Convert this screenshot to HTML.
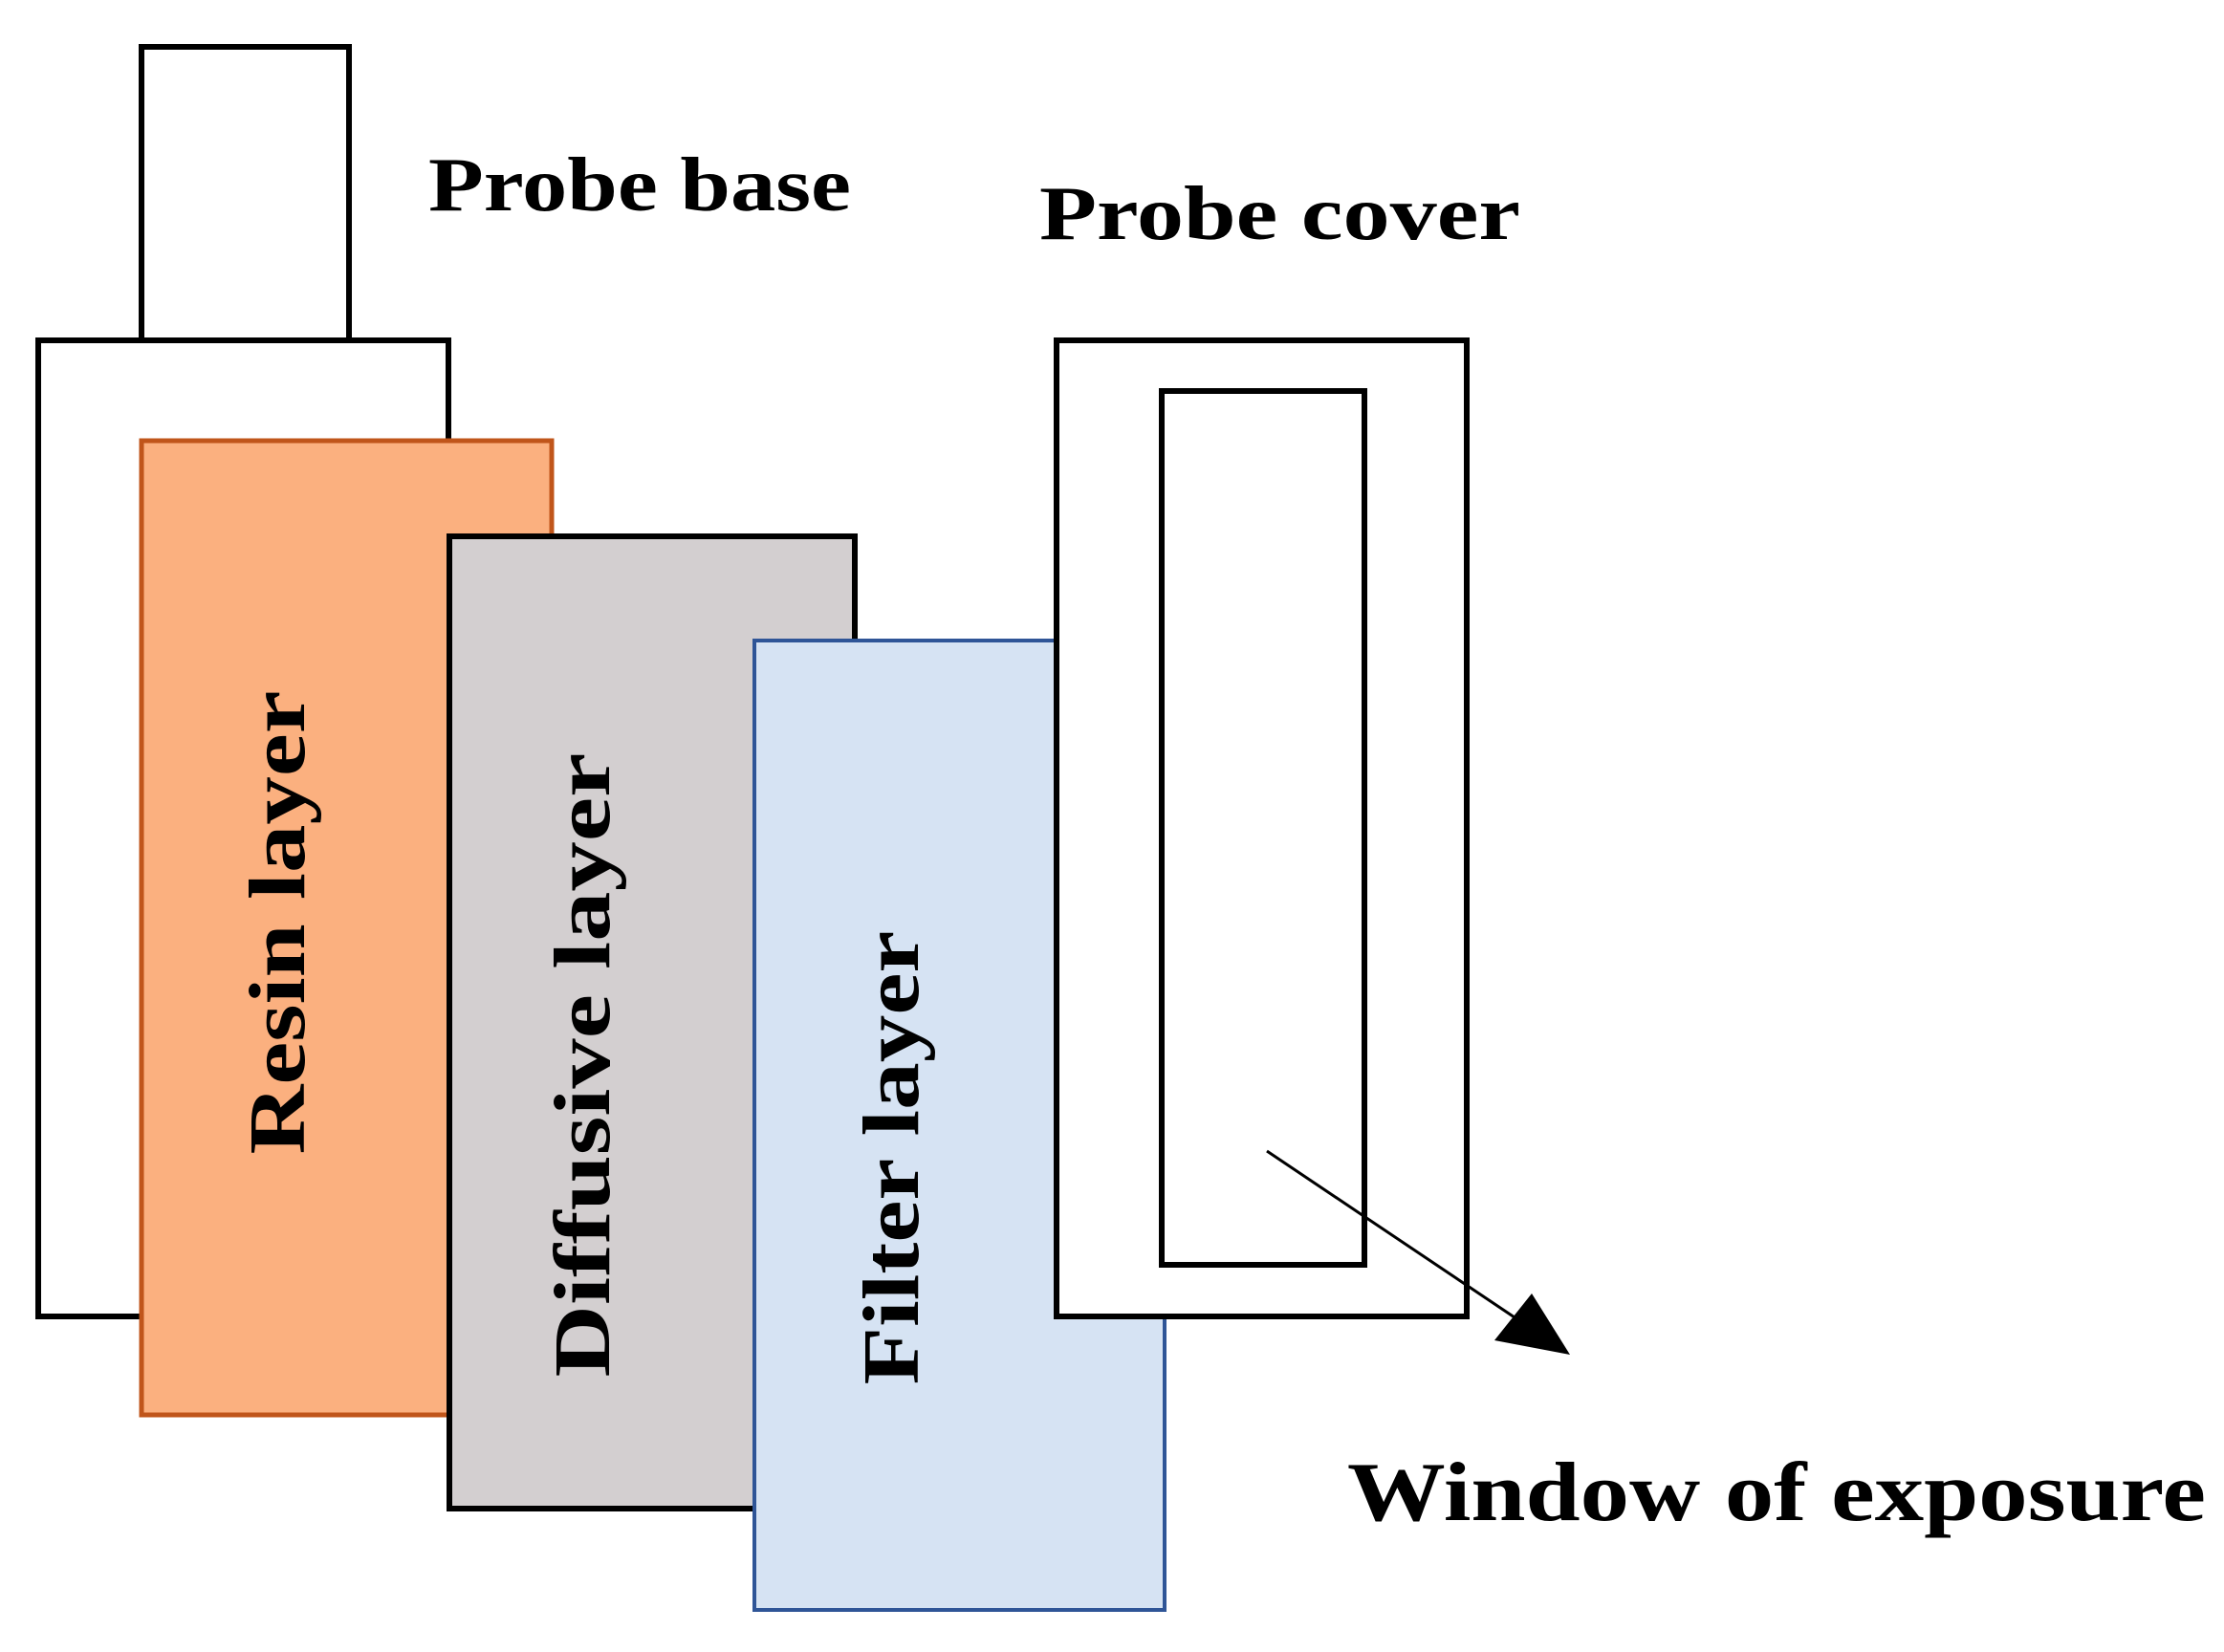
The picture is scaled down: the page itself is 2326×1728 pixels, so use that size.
<!DOCTYPE html>
<html><head><meta charset="utf-8"><style>html,body{margin:0;padding:0;background:#fff}svg{display:block}</style></head>
<body>
<svg width="2326" height="1728" viewBox="0 0 2326 1728" xmlns="http://www.w3.org/2000/svg">
<g stroke="#000" stroke-width="6" fill="#fff">
<rect x="148" y="49" width="217" height="307"/>
<rect x="40" y="356" width="429" height="1021"/>
</g>
<rect x="148" y="461" width="429" height="1019" fill="#FBB07F" stroke="#C0551A" stroke-width="5"/>
<rect x="470" y="561" width="424" height="1017" fill="#D3CFD0" stroke="#000" stroke-width="6"/>
<rect x="789" y="670" width="429" height="1014" fill="#D6E3F3" stroke="#2F5597" stroke-width="4"/>
<g stroke="#000" stroke-width="6" fill="#fff">
<rect x="1105" y="356" width="429" height="1021"/>
<rect x="1215" y="409" width="212" height="914"/>
</g>
<line x1="1325" y1="1204" x2="1590" y2="1382" stroke="#000" stroke-width="3"/>
<polygon points="1642,1417 1563,1402 1602,1353" fill="#000"/>
<g font-family="Liberation Serif, serif" fill="#000">
<text x="448" y="220" font-size="80" font-weight="bold" textLength="442" lengthAdjust="spacingAndGlyphs">Probe base</text>
<text x="1087" y="250" font-size="80" font-weight="bold" textLength="503" lengthAdjust="spacingAndGlyphs">Probe cover</text>
<text x="1409" y="1590" font-size="88" font-weight="bold" textLength="898" lengthAdjust="spacingAndGlyphs">Window of exposure</text>
<g font-weight="bold" font-size="84">
<text transform="translate(318,965) rotate(-90)" text-anchor="middle" textLength="485" lengthAdjust="spacingAndGlyphs">Resin layer</text>
<text transform="translate(637,1114) rotate(-90)" text-anchor="middle" textLength="653" lengthAdjust="spacingAndGlyphs">Diffusive layer</text>
<text transform="translate(960,1211) rotate(-90)" text-anchor="middle" textLength="475" lengthAdjust="spacingAndGlyphs">Filter layer</text>
</g>
</g>
</svg>
</body></html>
